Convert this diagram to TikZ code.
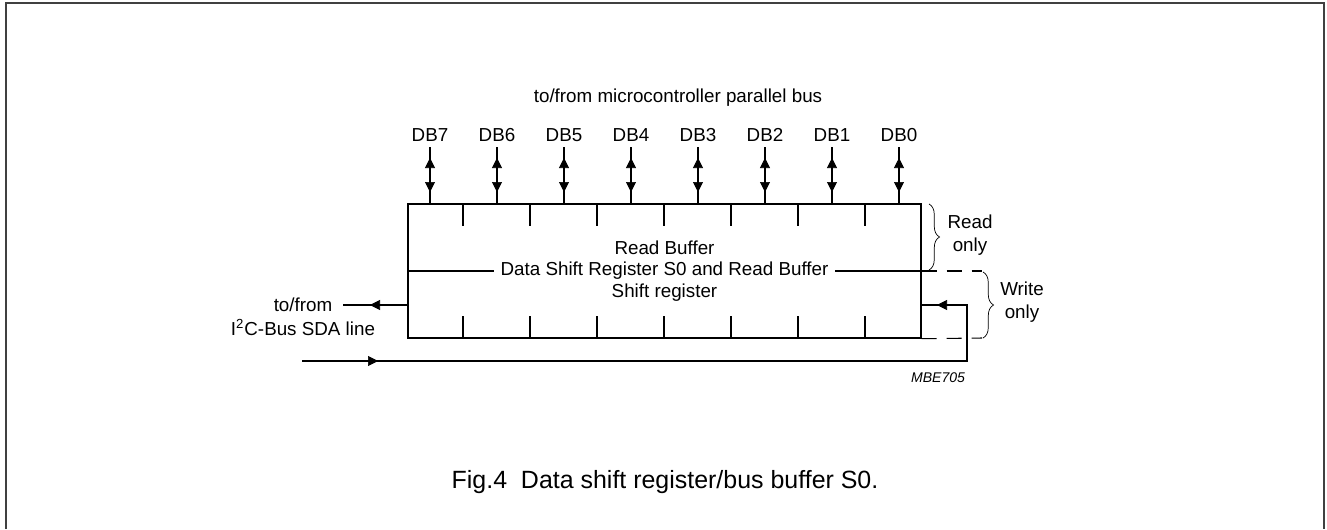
\documentclass[tikz,border=0pt]{standalone}
\usepackage{fontspec}
\setmainfont{Liberation Sans}
\usetikzlibrary{arrows.meta,decorations.pathreplacing}
\begin{document}
\begin{tikzpicture}[x=0.02cm,y=0.02cm]

      % Styles for the text, the filled arrow heads, the braces and the dashed guides
      \tikzstyle{lbl}=[inner sep=0pt, font=\fontsize{10.7}{13.5}\selectfont]
      \tikzstyle{tip}=[-{Triangle[length=2mm,width=2mm]}]
      \tikzstyle{brc}=[decorate, decoration={brace, amplitude=6pt}]
      \tikzstyle{guide}=[dash pattern=on 8.5pt off 5.7pt]

      % Dimensions (in pixels of the original figure)
      \def\cx{664.5}    % centre of the register
      \def\mid{258}     % divider between read buffer and shift register
      \def\loopy{168}   % return line below the register
      \def\sday{224}    % level of the SDA connections
      \def\rx{967}      % x of the right return line

      \useasboundingbox (0,0) rectangle (1327,529);

      % Page frame, open at the bottom
      \draw [line width=1.1pt, black!75] (6,0) -- (6,526) -- (1324,526) -- (1324,0);

      % The register
      \node [draw, line width=0.8pt, minimum width=10.26cm, minimum height=2.68cm, inner sep=0pt] (reg) at (\cx,\mid) {};

      % Cell dividers at top and bottom
      \foreach \x in {463,530,597,664,731,798,865} {
        \draw [line width=0.8pt] (\x,325) -- (\x,303);
        \draw [line width=0.8pt] (\x,191) -- (\x,213);
      }

      % Middle line with the label on top of it
      \draw [line width=0.8pt] (reg.west) -- (reg.east);
      \node [lbl, fill=white, inner xsep=4pt] (dsr) at (\cx,\mid) {Data Shift Register S0 and Read Buffer};
      \node [lbl] (rb) at (\cx,281) {Read Buffer};
      \node [lbl] (sr) at (\cx,236) {Shift register};

      % Parallel bus
      \node [lbl] (bus) at (678,431) {to/from microcontroller parallel bus};
      \foreach \i/\x in {7/430,6/497,5/564,4/631,3/698,2/765,1/832,0/899} {
        \node [lbl] (db\i) at (\x,394) {DB\i};
        \draw [line width=0.8pt] (\x,382) -- (db\i |- reg.north);
        \draw [tip] (\x,354) -- (\x,371);
        \draw [tip] (\x,354) -- (\x,337);
      }

      % I2C-bus side
      \node [lbl] (tofrom) at (303,\sday) {to/from};
      \node [lbl] (sda) at (303,202) {I\textsuperscript{2}C-Bus SDA line};
      \draw [line width=0.8pt] (reg.west |- tofrom) -- (343,\sday);
      \draw [tip] (reg.west |- tofrom) -- (370,\sday);

      % Return line into the shift register
      \coordinate (in) at (302,\loopy);
      \draw [line width=0.8pt] (in) -- (\rx,\loopy) -- (\rx,\sday) -- (reg.east |- tofrom);
      \draw [tip] (in) -- (378,\loopy);
      \draw [tip] (\rx,\sday) -- (937,\sday);

      % Read only / Write only
      \draw [line width=0.6pt, guide] (reg.east) -- (982,\mid);
      \draw [line width=0.6pt, guide] (reg.south east) -- (982,191);
      \draw [brc] (929,325) -- (929,259);
      \draw [brc] (983,257) -- (983,191);
      \node [lbl, align=center] (ro) at (970,294) {Read\\only};
      \node [lbl, align=center] (wo) at (1022,227) {Write\\only};

      \node [font=\itshape\fontsize{8}{9}\selectfont] (code) at (938,151) {MBE705};

      % Caption
      \node [font=\fontsize{14.2}{16}\selectfont] (cap) at (665,47) {Fig.4\ \ Data shift register/bus buffer S0.};

\end{tikzpicture}
\end{document}
